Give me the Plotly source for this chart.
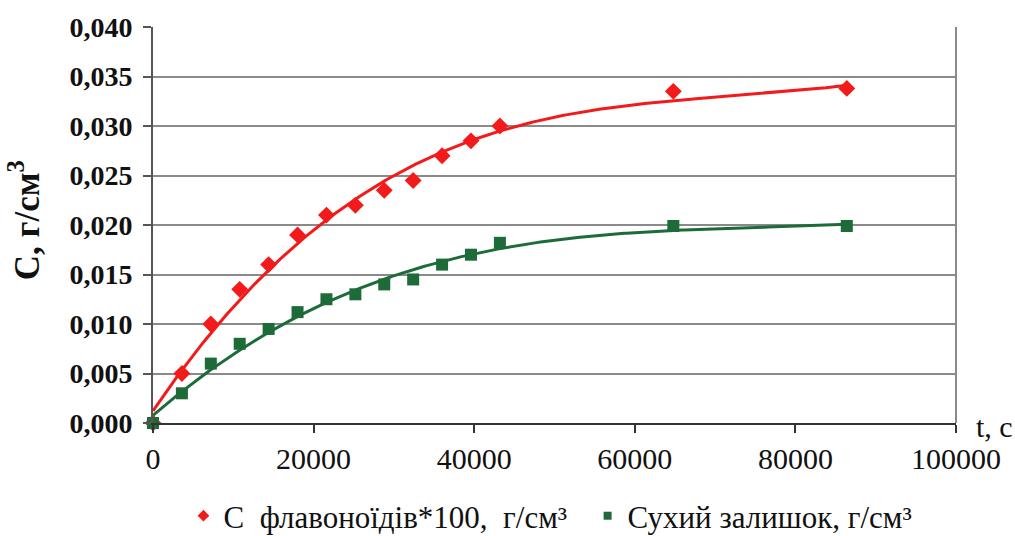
import numpy as np
import plotly.graph_objects as go

t_sec = [0, 3600, 7200, 10800, 14400, 18000, 21600, 25200, 28800, 32400, 36000, 39600, 43200, 64800, 86400]
c_flav = [0.0, 0.005, 0.010, 0.0135, 0.016, 0.019, 0.021, 0.022, 0.0235, 0.0245, 0.027, 0.0285, 0.030, 0.0335, 0.0338]
c_dry = [0.0, 0.003, 0.006, 0.008, 0.0095, 0.0112, 0.0125, 0.013, 0.014, 0.0145, 0.016, 0.017, 0.0182, 0.0199, 0.0199]

name_flav = "C\u00a0\u00a0флавоноїдів*100,\u00a0\u00a0г/см³\u00a0\u00a0"
name_dry = "Сухий залишок, г/см³"

red = "#f21a1a"
green = "#1d6b38"
FONT = "Liberation Serif"

# polynomial trend lines (as in spreadsheet trendline), fitted from the data
tx = np.linspace(min(t_sec), max(t_sec), 300)
pf = np.polyfit(t_sec, c_flav, 3)
pd_ = np.polyfit(t_sec, c_dry, 3)

fig = go.Figure()
fig.add_trace(go.Scatter(x=tx, y=np.polyval(pf, tx), mode="lines",
                         line=dict(color=red, width=3), showlegend=False, hoverinfo="skip"))
fig.add_trace(go.Scatter(x=tx, y=np.polyval(pd_, tx), mode="lines",
                         line=dict(color=green, width=3), showlegend=False, hoverinfo="skip"))
fig.add_trace(go.Scatter(x=t_sec, y=c_flav, mode="markers", name=name_flav, showlegend=False,
                         marker=dict(symbol="diamond", size=13, color=red), cliponaxis=False))
fig.add_trace(go.Scatter(x=t_sec, y=c_dry, mode="markers", name=name_dry, showlegend=False,
                         marker=dict(symbol="square", size=12, color=green), cliponaxis=False))
# legend entries (small legend symbols as in the reference)
fig.add_trace(go.Scatter(x=[None], y=[None], mode="markers", name=name_flav,
                         marker=dict(symbol="diamond", size=9, color=red)))
fig.add_trace(go.Scatter(x=[None], y=[None], mode="markers", name=name_dry,
                         marker=dict(symbol="square", size=8, color=green)))

fig.update_layout(
    width=1015, height=536,
    margin=dict(l=153, r=59, t=27, b=113, autoexpand=False),
    paper_bgcolor="white", plot_bgcolor="white",
    separators=", ",
    font=dict(family=FONT, size=26, color="#111"),
    showlegend=True,
    legend=dict(orientation="h", x=0.495, xanchor="center", y=-0.235, yanchor="middle",
                font=dict(family=FONT, size=31, color="#111"), itemwidth=30,
                tracegroupgap=0, bgcolor="rgba(0,0,0,0)"),
    xaxis=dict(range=[0, 100000], dtick=20000, tick0=0, tickformat="d",
               showgrid=False, zeroline=False,
               showline=True, linecolor="#333", linewidth=2,
               ticks="outside", ticklen=8, tickcolor="#333", tickwidth=1.5,
               tickfont=dict(family=FONT, size=30, color="#111"),
               mirror=False),
    yaxis=dict(range=[0, 0.04], dtick=0.005, tick0=0, tickformat=".3f",
               showgrid=True, gridcolor="#8a8a8a", gridwidth=1.5,
               zeroline=False,
               showline=True, linecolor="#555", linewidth=2,
               ticks="outside", ticklen=8, tickcolor="#555", tickwidth=1.5,
               ticklabelstandoff=5,
               tickfont=dict(family=FONT, size=28, color="#111", weight="bold")),
    annotations=[
        dict(text="<b>C, г/см<sup>3</sup></b>", xref="paper", yref="paper",
             x=-0.159, y=0.513, textangle=-90, showarrow=False,
             font=dict(family=FONT, size=35, color="#111"),
             xanchor="center", yanchor="middle"),
        dict(text="t, c", xref="paper", yref="paper", x=1.048, y=-0.01,
             showarrow=False, font=dict(family=FONT, size=30, color="#111"),
             xanchor="center", yanchor="middle"),
    ],
    shapes=[dict(type="line", xref="paper", yref="paper", x0=1, x1=1, y0=0, y1=1,
                 line=dict(color="#8a8a8a", width=2))],
)

fig.write_html("out.html", config={"displayModeBar": False},
               post_script="document.body.style.margin='0px';")
